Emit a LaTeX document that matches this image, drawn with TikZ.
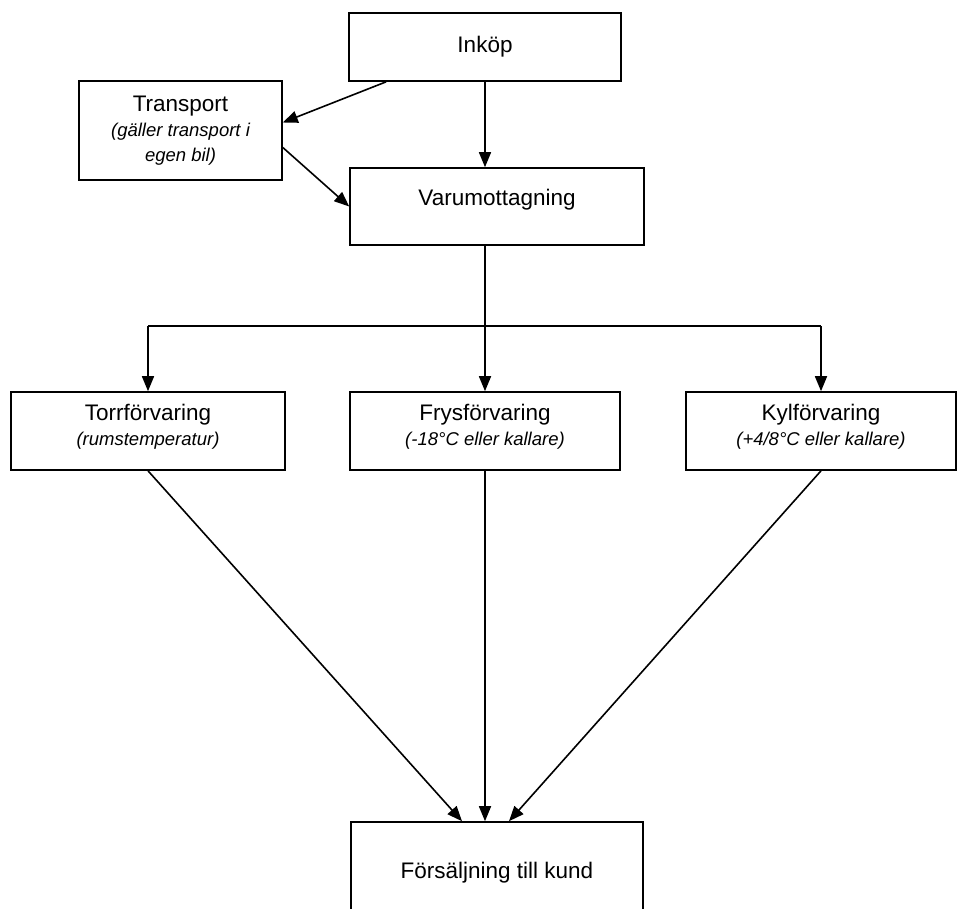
\documentclass[tikz,border=0pt]{standalone}
\usepackage{fontspec}
\setmainfont{Liberation Sans}
\usetikzlibrary{arrows.meta,calc}
\newcommand{\liten}{\fontsize{18.5}{22}\selectfont\itshape}

\begin{document}
\begin{tikzpicture}[x = 1pt, y = -1pt, line width = 1.6pt,
    box/.style = {draw, rectangle, align = center, inner sep = 0pt, font = \fontsize{22.5}{25}\selectfont},
    pil/.style = {-{Triangle[length = 15pt, width = 12pt]}}]
    \useasboundingbox (0,0) rectangle (971,909);
    \clip (0,0) rectangle (971,909);
    \node[box, minimum width = 272, minimum height = 68] (inkop) at (485,47) {Inköp};
    \node[box, minimum width = 203, minimum height = 99] (transport) at (180.5,130.5)
        {Transport\\{\liten (gäller transport i}\\{\liten egen bil)}};
    \node[box, minimum width = 294, minimum height = 77, text depth = 18pt] (varu) at (497,206.5) {Varumottagning};
    \node[box, minimum width = 274, minimum height = 78, text depth = 12pt] (torr) at (148,431)
        {Torrförvaring\\{\liten (rumstemperatur)}};
    \node[box, minimum width = 270, minimum height = 78, text depth = 12pt] (frys) at (485,431)
        {Frysförvaring\\{\liten (-18°C eller kallare)}};
    \node[box, minimum width = 270, minimum height = 78, text depth = 12pt] (kyl) at (821,431)
        {Kylförvaring\\{\liten (+4/8°C eller kallare)}};
    \node[box, minimum width = 292, minimum height = 102] (forsalj) at (497,873) {Försäljning till kund};
    \coordinate (mitt) at (485,326);
    \draw[pil] ($(inkop.south west)+(38,0)$) -- ($(transport.east)+(0,-8)$);
    \draw[pil] (inkop.south) -- (inkop.south |- varu.north);
    \draw[pil] ($(transport.east)+(0,17)$) -- (varu.west);
    \draw (varu.south -| mitt) -- (mitt);
    \draw (torr.north |- mitt) -- (kyl.north |- mitt);
    \draw[pil] (torr.north |- mitt) -- (torr.north);
    \draw[pil] (mitt) -- (frys.north);
    \draw[pil] (kyl.north |- mitt) -- (kyl.north);
    \draw[pil] (torr.south) -- ($(forsalj.north)+(-35,0)$);
    \draw[pil] (frys.south) -- (frys.south |- forsalj.north);
    \draw[pil] (kyl.south) -- ($(forsalj.north)+(12,0)$);
\end{tikzpicture}
\end{document}
